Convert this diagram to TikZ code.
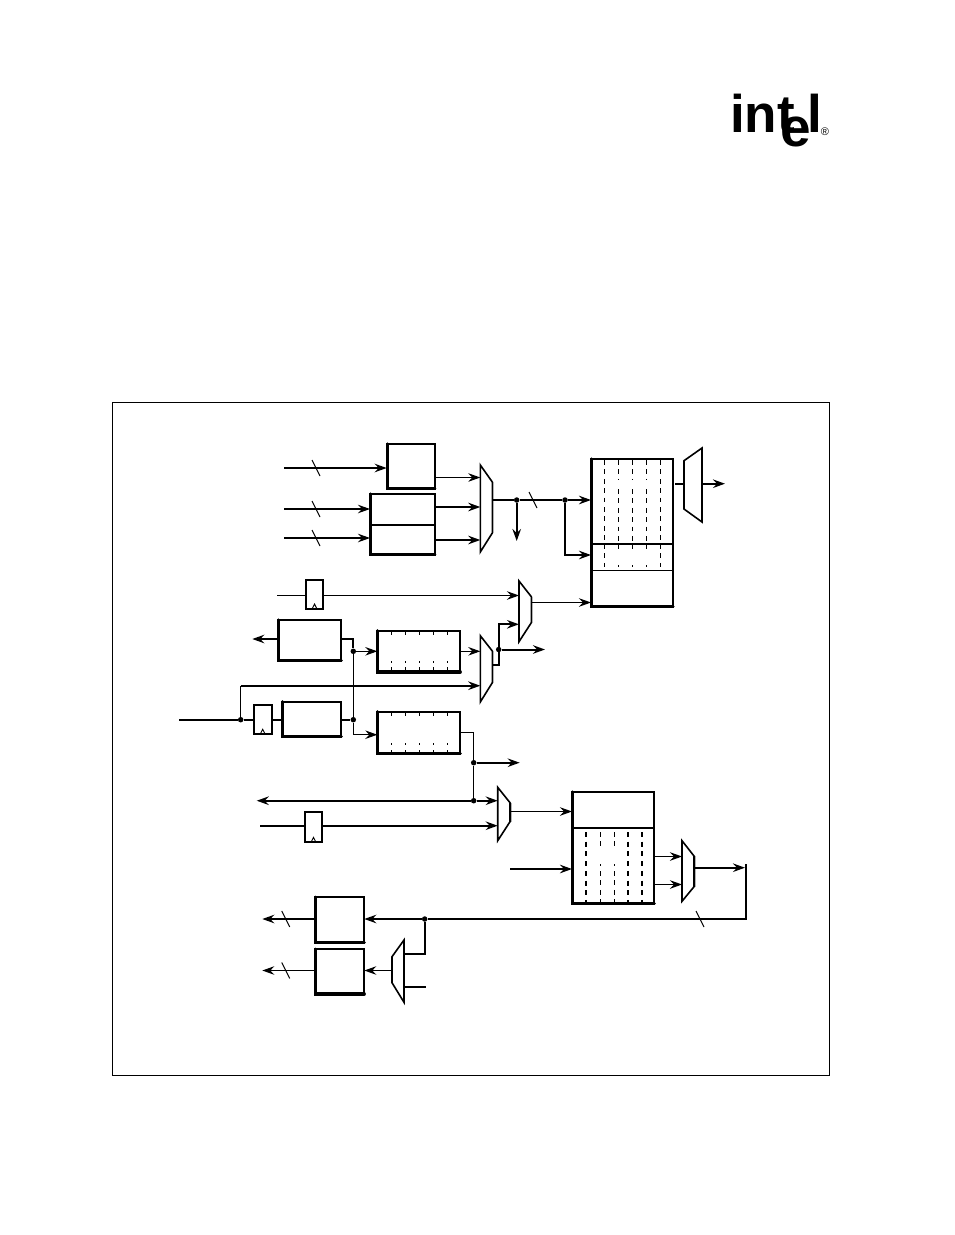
\documentclass[tikz,border=0pt]{standalone}
\usepackage{fontspec}
\setmainfont{Liberation Sans}
\usetikzlibrary{arrows.meta,calc}
\tikzset{
  x=1pt,y=-1pt,
  lnA/.style={line width=1.1pt},
  lnB/.style={line width=2pt},
  lnC/.style={line width=2.6pt},
  arr/.style={-{Stealth[length=12pt,width=8.5pt,inset=4pt]}},
  boxs/.style={rectangle,draw,line width=1.7pt,inner sep=0pt,outer sep=0pt,anchor=north west},
  ghost/.style={rectangle,inner sep=0pt,outer sep=0pt,anchor=north west},
  dot/.style={circle,fill=black,inner sep=0pt,minimum size=5.5pt},
  slash/.style={line width=1pt},
  dsh/.style={line width=1.1pt,dash pattern=on 4.7pt off 4.7pt},
  dshB/.style={line width=2pt,dash pattern=on 5pt off 4.7pt},
  logo/.style={inner sep=0pt,outer sep=0pt,font=\fontsize{53pt}{53pt}\selectfont\bfseries},
  logoe/.style={inner sep=0pt,outer sep=0pt,font=\fontsize{55pt}{55pt}\selectfont\bfseries}
}
% box: name x1 y1 x2 y2 ; heavy left and bottom edges
\newcommand{\bx}[5]{%
  \pgfmathsetmacro{\bw}{#4-#2}\pgfmathsetmacro{\bh}{#5-#3}%
  \node[boxs,minimum width=\bw pt,minimum height=\bh pt] (#1) at (#2,#3) {};
  \draw[line width=3.2pt,line cap=round] ($(#1.north west)+(.4,0)$)--($(#1.south west)+(.4,-.4)$)--($(#1.south east)+(0,-.4)$);}
% mux, long side left: name xl xr ytl ytr ybr ybl
\newcommand{\muxL}[7]{%
  \pgfmathsetmacro{\bw}{#3-#2}\pgfmathsetmacro{\bh}{#7-#4}%
  \node[ghost,minimum width=\bw pt,minimum height=\bh pt] (#1) at (#2,#4) {};
  \draw[line width=1.6pt,line join=miter] (#2,#4)--(#3,#5)--(#3,#6)--(#2,#7)--cycle;
  \draw[line width=.8pt,black!30] (#3+1.2,#5)--(#3+1.2,#6);}
% mux, long side right: name xl xr ytr ytl ybl ybr
\newcommand{\muxR}[7]{%
  \pgfmathsetmacro{\bw}{#3-#2}\pgfmathsetmacro{\bh}{#7-#4}%
  \node[ghost,minimum width=\bw pt,minimum height=\bh pt] (#1) at (#2,#4) {};
  \draw[line width=1.6pt,line join=miter] (#3,#4)--(#2,#5)--(#2,#6)--(#3,#7)--cycle;}
% flip-flop: name x1 y1 x2 y2
\newcommand{\ff}[5]{%
  \pgfmathsetmacro{\bw}{#4-#2}\pgfmathsetmacro{\bh}{#5-#3}%
  \node[boxs,minimum width=\bw pt,minimum height=\bh pt] (#1) at (#2,#3) {};
  \draw[line width=.9pt] ($(#1.south)+(-2.5,0)$)--($(#1.south)+(0,-5)$)--($(#1.south)+(2.5,0)$);}
\newcommand{\slsh}[2]{\draw[slash] (#1-4,#2-8)--(#1+4,#2+8);}
\begin{document}
\begin{tikzpicture}
\useasboundingbox (0,0) rectangle (954,1235);
\fill[white] (0,0) rectangle (954,1235);
% frame
\node[rectangle,draw,line width=.8pt,inner sep=0pt,outer sep=0pt,anchor=north west,minimum width=717.5pt,minimum height=672.7pt] (frame) at (112,402.7) {};
% logo
\node[logo,anchor=base west] (li) at (730,132.5) {int};
\node[logoe,anchor=base west] (le) at (780,146) {e};
\node[logo,anchor=base west] (ll) at (807.5,132.5) {l};
\node[inner sep=0pt,anchor=center,font=\fontsize{11pt}{11pt}\selectfont] (lr) at (825,132) {®};

% ---- top group
\bx{b1}{386.7}{444}{434.7}{489}
\bx{b2}{370}{494}{434.7}{555}
\draw[line width=1.8pt] (370,525)--(433.5,525);
\muxL{m1}{480.3}{492.3}{465}{482}{533}{552}
\coordinate (i1) at (284,468); \coordinate (i2) at (284,509); \coordinate (i3) at (284,538);
\draw[lnC,arr] (i1) -- (b1.west|-i1);
\draw[lnA,arr] (i2) -- (b2.west|-i2);
\draw[lnA,arr] (i3) -- (b2.west|-i3);
\slsh{316}{468}\slsh{316}{509}\slsh{316}{538}
\coordinate (o1) at (434.7,477.5); \coordinate (o2) at (434.7,507); \coordinate (o3) at (434.7,540);
\draw[lnA,arr] (o1) -- (m1.west|-o1);
\draw[lnB,arr] (o2) -- (m1.west|-o2);
\draw[lnB,arr] (o3) -- (m1.west|-o3);
% register file 1
\bx{r1}{591}{459}{673}{607}
\draw[line width=1.9pt] (591,544)--(673,544);
\draw[line width=1.1pt] (591,570.5)--(673,570.5);
\foreach \x in {604.3,660.3} {\draw[dsh] (\x,460)--(\x,544); \draw[dsh] (\x,544)--(\x,567);}
\foreach \x in {618.3,632.3,646.3} {\draw[dsh] (\x,460)--(\x,480); \draw[dsh] (\x,489)--(\x,544); \draw[dsh] (\x,544)--(\x,549); \fill (\x-.5,565)rectangle(\x+.5,566.5);}
\node[dot] (d1) at (516.7,500) {};
\node[dot] (d2) at (565,500) {};
\coordinate (dn) at (516.7,541);
\draw[lnB] (m1.east|-d1) -- (d1);
\draw[lnB] (d1) -- (d2);
\draw[lnB,arr] (d2) -- (r1.west|-d2);
\draw[lnB,arr] (d1) -- (dn);
\coordinate (bra) at (565,555);
\draw[lnB,arr] (d2) -- (bra) -- (r1.west|-bra);
\slsh{533}{500}
\muxR{m7}{684}{702}{448}{460.7}{509}{522}
\coordinate (o7) at (725,483.7);
\draw[lnB] (r1.east|-o7) ++(2,0) -- (m7.west|-o7);
\draw[lnB,arr] (m7.east|-o7) -- (o7);

% ---- middle group
\ff{f1}{305.7}{579.7}{323.3}{609}
\muxL{m2}{519}{531.3}{581}{596.7}{622.7}{641.7}
\muxL{m3}{480.3}{492.3}{635.7}{651}{682.7}{702}
\coordinate (s1) at (277,595.5);
\draw[lnA] (s1) -- (f1.west|-s1);
\draw[lnA,arr] (f1.east|-s1) -- (m2.west|-s1);
\coordinate (o2a) at (519,602.5);
\draw[lnA,arr] (m2.east|-o2a) -- (r1.west|-o2a);
\bx{bc}{278}{620}{341.3}{660.7}
\coordinate (lc) at (252.3,639);
\draw[lnB,arr] (bc.west|-lc) -- (lc);
\bx{ba}{377.3}{630.7}{460.3}{672.3}
\bx{bb}{377.3}{711.7}{460.3}{754}
\foreach \x in {391.3,405.3,419.3,433.3,447.3} {
  \draw[lnA] (\x,631)--(\x,635); \draw[lnA] (\x,661)--(\x,663); \draw[lnA] (\x,667)--(\x,672);
  \draw[lnA] (\x,712)--(\x,716); \draw[lnA] (\x,743)--(\x,745); \draw[lnA] (\x,750)--(\x,754);
}
\node[dot] (d3) at (353.3,651.3) {};
\node[dot] (d4) at (353.3,719.7) {};
\coordinate (c1) at (353.3,639);
\coordinate (c2) at (353.3,734.7);
\draw[lnB] (bc.east|-c1) -- (c1) -- (d3);
\draw[lnA] (d3) -- (d4);
\draw[lnA] (d4) -- (c2);
\draw[lnA,arr] (d3) -- (ba.west|-d3);
\draw[lnA,arr] (c2) -- (bb.west|-c2);
\draw[lnA,arr] (ba.east|-d3) -- (m3.west|-d3);
% input bus
\coordinate (in) at (179,719.7);
\node[dot] (d5) at (240.7,719.7) {};
\ff{f2}{253.7}{704.7}{271.7}{734.3}
\bx{bd}{282}{701.7}{341.3}{736.7}
\draw[lnB] (in) -- (d5);
\draw[lnB] (d5) -- (f2.west|-d5);
\draw[lnB] (f2.east|-d5) -- (bd.west|-d5);
\draw[lnB] (bd.east|-d5) -- (d4);
\coordinate (up) at (240.7,685.7);
\draw[lnA] (d5) -- (up);
\draw[lnB,arr] (up) -- (m3.west|-up);
% mux3 output
\coordinate (m3o) at (498.7,665);
\node[dot] (d6) at (498.7,649.5) {};
\coordinate (m3u) at (498.7,624.3);
\coordinate (o3r) at (545,649.5);
\draw[lnB] (m3.east|-m3o) -- (m3o) -- (d6);
\draw[lnB,arr] (d6) -- (m3u) -- (m2.west|-m3u);
\draw[lnB,arr] (d6) -- (o3r);
% box B output
\coordinate (b1a) at (460.3,732.3);
\coordinate (b1b) at (473.7,732.3);
\node[dot] (d7) at (473.7,762.7) {};
\node[dot] (d8) at (473.7,800.7) {};
\coordinate (o7r) at (519.7,762.7);
\draw[lnA] (b1a) -- (b1b) -- (d7);
\draw[lnB,arr] (d7) -- (o7r);
\draw[lnA] (d7) -- (d8);

% ---- lower group
\muxL{m4}{497.7}{510}{787.3}{802.7}{821.7}{840.7}
\coordinate (t1) at (256.7,800.7);
\draw[lnB,arr] (d8) -- (t1);
\draw[lnB,arr] (d8) -- (m4.west|-d8);
\ff{f3}{304.7}{812.3}{322.3}{842.3}
\coordinate (s3) at (260,825.7);
\draw[lnB] (s3) -- (f3.west|-s3);
\draw[lnB,arr] (f3.east|-s3) -- (m4.west|-s3);
% register file 2
\bx{r2}{572}{792}{654.3}{903.7}
\draw[line width=1.9pt] (572,827.7)--(654.3,827.7);
\draw[dshB] (586,832)--(586,903);
\foreach \x in {628,642} {\draw[dshB] (\x,832)--(\x,903);}
\foreach \x in {600.3,614.3} {\draw[dsh] (\x,832)--(\x,848); \fill (\x-.5,864)rectangle(\x+.5,866); \draw[dsh] (\x,871)--(\x,903);}
\coordinate (o4) at (572,811.5);
\draw[lnA,arr] (m4.east|-o4) -- (r2.west|-o4);
\coordinate (i4) at (510,869);
\draw[lnB,arr] (i4) -- (r2.west|-i4);
\muxL{m5}{682}{694}{840.7}{856}{886.7}{901.3}
\coordinate (o5a) at (654.3,856.5); \coordinate (o5b) at (654.3,884.5);
\draw[lnA,arr] (o5a) -- (m5.west|-o5a);
\draw[lnA,arr] (o5b) -- (m5.west|-o5b);
\coordinate (o5c) at (745,867.7);
\draw[lnB,arr] (m5.east|-o5c) -- (o5c);
\coordinate (v1) at (746,864);
\coordinate (v2) at (746,919);
\bx{be}{315}{897.3}{364.3}{942.7}
\bx{bf}{315}{949.3}{364.3}{994.3}
\node[dot] (d9) at (424.7,919) {};
\draw[lnB] (v1) -- (v2) -- (d9);
\draw[lnB,arr] (d9) -- (be.east|-d9);
\slsh{700}{919}
\coordinate (le1) at (262.3,919);
\draw[lnB,arr] (be.west|-le1) -- (le1);
\slsh{285.7}{919}
\muxR{m6}{392}{404}{940}{956.7}{982.7}{1002.3}
\coordinate (m6o) at (392,970.5);
\draw[lnA,arr] (m6o) -- (bf.east|-m6o);
\coordinate (le2) at (262.3,970.5);
\draw[lnA,arr] (bf.west|-le2) -- (le2);
\slsh{285.7}{970.5}
\coordinate (m6a) at (424.7,954.3);
\coordinate (m6b) at (426,987);
\draw[lnB] (d9) -- (m6a) -- (m6.east|-m6a);
\draw[lnB] (m6.east|-m6b) -- (m6b);
\end{tikzpicture}
\end{document}
